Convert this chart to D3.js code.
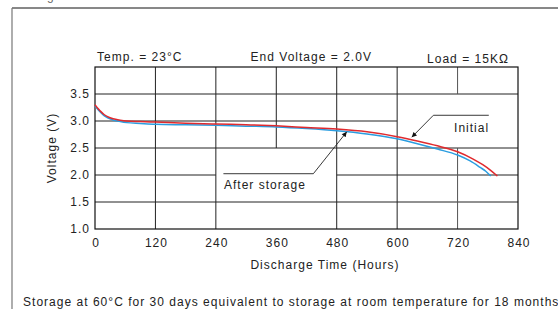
<!DOCTYPE html>
<html><head><meta charset="utf-8">
<script src="https://cdn.jsdelivr.net/npm/d3@7"></script>
<style>
html,body{margin:0;padding:0;background:#fff;}
svg{display:block;font-family:"Liberation Sans",Arial,sans-serif;}
text{font-size:12px;letter-spacing:1.02px;fill:#222;}
</style></head>
<body><svg id="c" width="558" height="309"></svg>
<script>
const xTicks = [0,120,240,360,480,600,720,840];
const yTicks = [1.0,1.5,2.0,2.5,3.0,3.5];
const initialHours = [0,5,10,18,25,36,50,63,90,120,180,240,300,360,420,480,540,600,640,680,720,750,770,785,799];
const initialVolts = [3.30,3.24,3.19,3.12,3.08,3.04,3.015,3.00,2.99,2.98,2.96,2.945,2.93,2.91,2.88,2.85,2.80,2.71,2.63,2.54,2.43,2.30,2.19,2.09,1.98];
const storedHours = [0,5,10,18,25,36,50,63,90,120,180,240,300,360,420,480,540,600,640,680,720,745,765,776,786];
const storedVolts = [3.28,3.22,3.17,3.10,3.06,3.02,2.99,2.97,2.955,2.94,2.93,2.92,2.905,2.89,2.86,2.82,2.76,2.67,2.58,2.48,2.37,2.26,2.14,2.07,1.98];
// grid segments (data units)
const gridH = [[3.5,0,840],[3.0,0,600],[2.5,0,840],[2.0,0,240],[2.0,480,840],[1.5,0,840]];
const gridV = [[120,1,4],[240,1,4],[360,2.5,4],[480,1,4],[600,1,4],[720,3.5,4],[720,1,2.5]];

const svg = d3.select("#c");
const x = d3.scaleLinear().domain([0,840]).range([95,518]);
const y = d3.scaleLinear().domain([1,4]).range([229,67]);

// outer frame fragments
svg.append("line").attr("x1",12).attr("y1",8).attr("x2",558).attr("y2",8).attr("stroke","#111").attr("stroke-width",1);
svg.append("line").attr("x1",12).attr("y1",8).attr("x2",12).attr("y2",309).attr("stroke","#777").attr("stroke-width",1.2);
svg.append("text").attr("x",47).attr("y",0).style("fill","#666").text("g");

// grid
svg.append("g").selectAll("line").data(gridH).join("line")
  .attr("x1",d=>x(d[1])).attr("x2",d=>x(d[2])).attr("y1",d=>y(d[0])).attr("y2",d=>y(d[0]))
  .attr("stroke","#222").attr("stroke-width",1);
svg.append("g").selectAll("line").data(gridV).join("line")
  .attr("x1",d=>x(d[0])).attr("x2",d=>x(d[0])).attr("y1",d=>y(d[1])).attr("y2",d=>y(d[2]))
  .attr("stroke",d=>d[0]===720?"#555":"#222").attr("stroke-width",1);
svg.append("rect").attr("x",x(0)).attr("y",y(4)).attr("width",x(840)-x(0)).attr("height",y(1)-y(4))
  .attr("fill","none").attr("stroke","#111").attr("stroke-width",1.2);

// axes labels
const xa = svg.append("g").attr("transform",`translate(0,${y(1)})`)
  .call(d3.axisBottom(x).tickValues(xTicks).tickSize(0).tickPadding(9).tickFormat(d3.format("d")));
const ya = svg.append("g").attr("transform",`translate(${x(0)},0)`)
  .call(d3.axisLeft(y).tickValues(yTicks).tickSize(0).tickPadding(5).tickFormat(d3.format(".1f")));
[xa,ya].forEach(a=>{a.select(".domain").remove();a.selectAll("text").attr("font-family",null).attr("font-size",null).style("font-size","12px").style("fill","#222");});
xa.selectAll("text").attr("dx","0.5px");

// curves
const line = d3.line().x(d=>x(d[0])).y(d=>y(d[1])).curve(d3.curveMonotoneX);
svg.append("path").datum(d3.zip(storedHours,storedVolts)).attr("d",line)
  .attr("fill","none").attr("stroke","#2a9de0").attr("stroke-width",1.5);
svg.append("path").datum(d3.zip(initialHours,initialVolts)).attr("d",line)
  .attr("fill","none").attr("stroke","#e02a2e").attr("stroke-width",1.5);

// arrow marker
svg.append("defs").append("marker").attr("id","ar").attr("viewBox","0 0 10 10")
  .attr("refX",10).attr("refY",5).attr("markerWidth",7).attr("markerHeight",5)
  .attr("orient","auto").attr("markerUnits","userSpaceOnUse")
  .append("path").attr("d","M0,0L10,5L0,10Z").attr("fill","#111");

// annotations
svg.append("path").attr("d",d3.line()([[x(782),y(3.106)],[x(672),y(3.106)],[x(629),y(2.70)]]))
  .attr("fill","none").attr("stroke","#222").attr("stroke-width",0.9).attr("marker-end","url(#ar)");
svg.append("text").attr("x",x(713)).attr("y",y(2.79)).text("Initial");
svg.append("path").attr("d",d3.line()([[x(255),y(2.024)],[x(433.6),y(2.024)],[x(500),y(2.80)]]))
  .attr("fill","none").attr("stroke","#222").attr("stroke-width",0.9).attr("marker-end","url(#ar)");
svg.append("text").attr("x",x(256)).attr("y",y(1.746)).text("After storage");

// header texts
svg.append("text").attr("x",97).attr("y",61).text("Temp. = 23°C");
svg.append("text").attr("x",250.5).attr("y",61).text("End Voltage = 2.0V");
svg.append("text").attr("x",427).attr("y",63).text("Load = 15KΩ");

// axis titles
svg.append("text").attr("text-anchor","middle").attr("transform","translate(56,148) rotate(-90)").text("Voltage (V)");
svg.append("text").attr("text-anchor","middle").attr("x",325).attr("y",269).text("Discharge Time (Hours)");

// footnote
svg.append("text").attr("x",23).attr("y",306).text("Storage at 60°C for 30 days equivalent to storage at room temperature for 18 months");
</script></body></html>
